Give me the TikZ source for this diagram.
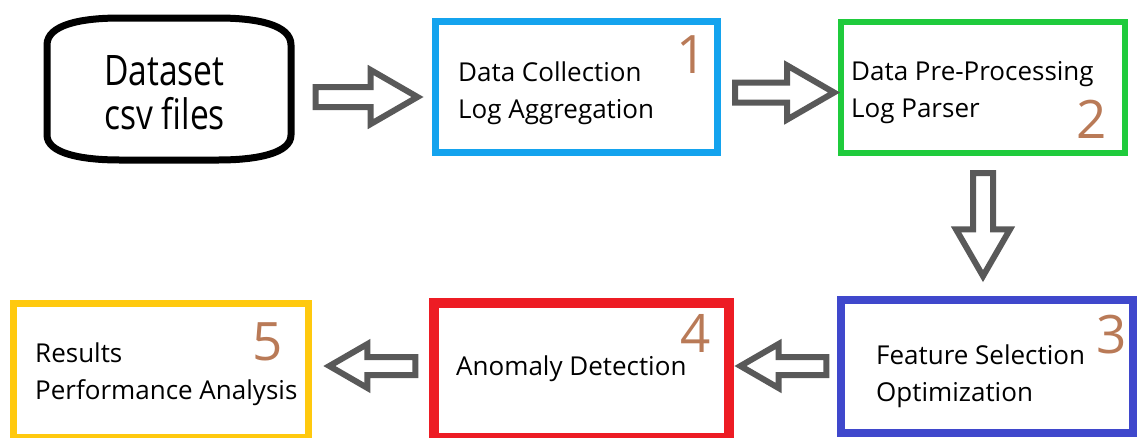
\documentclass[tikz,border=0pt]{standalone}
\usepackage{fontspec}
\setmainfont{Open Sans}
\usetikzlibrary{shapes.arrows}

\definecolor{boxblue}{HTML}{14A3EE}
\definecolor{boxgreen}{HTML}{1FCB3C}
\definecolor{boxindigo}{HTML}{3F48CC}
\definecolor{boxred}{HTML}{ED1C24}
\definecolor{boxgold}{HTML}{FFC90E}
\definecolor{numbrown}{HTML}{B97A57}
\definecolor{arrowgray}{HTML}{595959}

\tikzset{
	stage/.style={draw, rectangle, inner sep=0pt},
	steptext/.style={anchor=base west, inner sep=0pt, align=left, font=\fontsize{26}{36.5}\selectfont},
	stepnum/.style={anchor=base, inner sep=0pt, text=numbrown, font=\fontsize{53}{53}\selectfont},
	blockarrow/.style={single arrow, draw=arrowgray, line width=6pt, inner xsep=0pt, inner ysep=7pt,
		single arrow head extend=17pt, single arrow tip angle=60, sloped, allow upside down},
	smallhead/.style={inner ysep=6pt, single arrow head extend=13pt}
}

\begin{document}
\begin{tikzpicture}[x=1pt, y=-1pt, line join=miter]
	\useasboundingbox (0,0) rectangle (1138,437);
	% dataset
	\node[minimum width=244pt, minimum height=142pt, inner sep=0pt] (ds) at (169,89) {};
	\draw[line width=7pt] (47,135) -- (47,45) .. controls (47,25) and (80,18) .. (120,18) -- (218,18)
		.. controls (258,18) and (291,25) .. (291,45) -- (291,135)
		.. controls (291,153) and (258,160) .. (218,160) -- (120,160)
		.. controls (80,160) and (47,153) .. (47,135) -- cycle;
	\node[anchor=base west, inner sep=0pt, align=left, xscale=.8, font=\fontsize{42}{44}\selectfont] (dsname) at (104,129) {Dataset\\csv files};
	
	% stages
	\node[stage, draw=boxblue, line width=7pt, minimum width=282pt, minimum height=131pt] (b1) at (576,86.5) {};
	\node[stage, draw=boxgreen, line width=6pt, minimum width=284pt, minimum height=131pt] (b2) at (982.5,87) {};
	\node[stage, draw=boxindigo, line width=8pt, minimum width=292pt, minimum height=133pt] (b3) at (987,366.5) {};
	\node[stage, draw=boxred, line width=10pt, minimum width=295pt, minimum height=135pt] (b4) at (581,370.5) {};
	\node[stage, draw=boxgold, line width=7pt, minimum width=295pt, minimum height=134pt] (b5) at (160.5,370) {};
	
	\node[steptext] (t1) at (458,118) {Data Collection\\Log Aggregation};
	\node[steptext] (t2) at (851,117) {Data Pre-Processing\\Log Parser};
	\node[steptext] (t3) at (876,401) {Feature Selection\\Optimization};
	\node[steptext] (t4) at (456,375) {Anomaly Detection};
	\node[steptext] (t5) at (35,399) {Results\\Performance Analysis};
	
	\node[stepnum] (n1) at (691.5,73) {1};
	\node[stepnum] (n2) at (1091.5,138) {2};
	\node[stepnum] (n3) at (1112,353) {3};
	\node[stepnum] (n4) at (696,352) {4};
	\node[stepnum] (n5) at (267.5,360) {5};
	
	% arrows
	\path (ds.east |- 0,97) -- node[blockarrow, pos=.475, minimum height=102pt] {} (b1.west |- 0,97);
	\path (b1.east |- 0,92.5) -- node[blockarrow, pos=.473, minimum height=99pt] {} (b2.west |- 0,92.5);
	\path (b2.south -| 983,0) -- node[blockarrow, pos=.43, minimum height=103pt] {} (b3.north -| 983,0);
	\path (b3.west |- 0,366) -- node[blockarrow, smallhead, pos=.442, minimum height=86pt] {} (b4.east |- 0,366);
	\path (b4.west |- 0,366) -- node[blockarrow, smallhead, pos=.413, minimum height=86pt] {} (b5.east |- 0,366);
\end{tikzpicture}
\end{document}
